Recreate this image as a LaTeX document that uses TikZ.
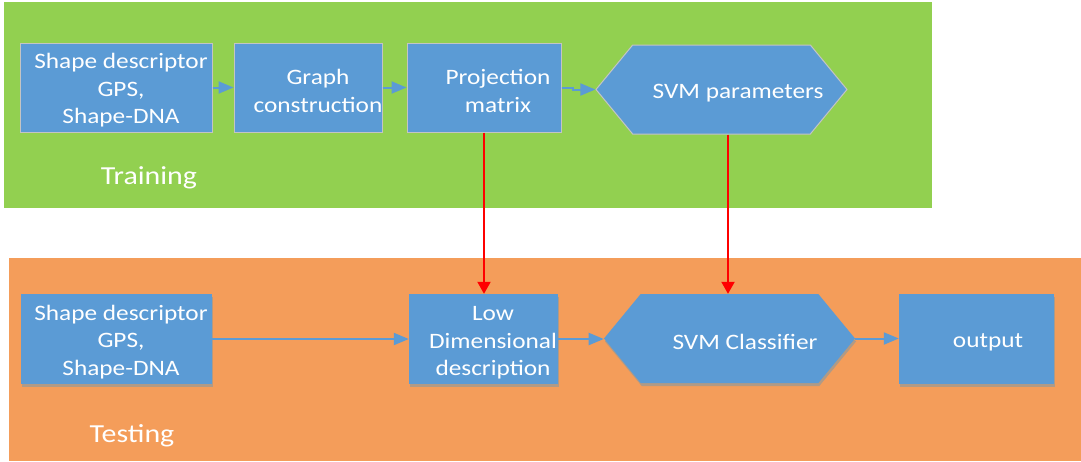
\documentclass[tikz,border=0pt]{standalone}
\usepackage{fontspec}
\setmainfont{Carlito}[FakeStretch=1.15]
\usetikzlibrary{arrows.meta,shapes.symbols,shadows}
\definecolor{panelgreen}{HTML}{92D050}
\definecolor{panelorange}{HTML}{F49D5A}
\definecolor{boxblue}{HTML}{5B9BD5}
\definecolor{boxedge}{HTML}{C4C4C4}
\definecolor{shadowgray}{HTML}{B09A86}
\tikzset{
  basebox/.style={fill=boxblue, inner sep=0pt, anchor=center},
  tbox/.style={basebox, rectangle, draw=boxedge, line width=1pt},
  sbox/.style={basebox, rectangle, draw=none,
    drop shadow={shadow xshift=1pt, shadow yshift=-3pt, fill=shadowgray, opacity=1}},
  thexa/.style={basebox, signal, signal to=west and east, signal pointer angle=101,
    draw=boxedge, line width=1pt},
  shexa/.style={basebox, signal, signal to=west and east, signal pointer angle=101,
    draw=none, drop shadow={shadow xshift=1pt, shadow yshift=-3pt, fill=shadowgray, opacity=1}},
  boxtext/.style={text=white, align=center, font=\fontsize{22}{27.5}\selectfont, inner sep=0pt},
  paneltext/.style={text=white, font=\fontsize{26}{30}\selectfont, inner sep=0pt},
  flow/.style={draw=boxblue, line width=2pt, -{Triangle[length=15pt,width=12pt]}},
  feed/.style={draw=red, line width=2pt, -{Triangle[length=12pt,width=13pt]}}
}
\begin{document}
\begin{tikzpicture}[x=1pt,y=-1pt]
\useasboundingbox (0,0) rectangle (1081,461);
% panels
\fill[panelgreen] (4,2) rectangle (932,208);
\fill[panelorange] (9,258) rectangle (1081,461);
\node[paneltext] (trainlbl) at (149,178) {Training};
\node[paneltext] (testlbl) at (132,436) {Testing};
% training row
\node[tbox, minimum width=192pt, minimum height=89pt] (tb1) at (116,87.5) {};
\node[tbox, minimum width=148pt, minimum height=89pt] (tb2) at (308,87.5) {};
\node[tbox, minimum width=154pt, minimum height=89pt] (tb3) at (484,87.5) {};
\node[thexa, minimum width=251pt, minimum height=89pt] (thex) at (721.5,89.5) {};
\node[boxtext] (tb1t) at (121,90.5) {Shape descriptor\\GPS,\\Shape-DNA};
\node[boxtext] (tb2t) at (318,91) {Graph\\construction};
\node[boxtext] (tb3t) at (498,91) {Projection\\matrix};
\node[boxtext] (thext) at (738,93) {SVM parameters};
% testing row
\node[sbox, minimum width=191pt, minimum height=90pt] (sb1) at (116.5,339) {};
\node[sbox, minimum width=149pt, minimum height=90pt] (sb2) at (483.5,339) {};
\node[shexa, minimum width=251pt, minimum height=89pt] (shex) at (729.5,338.5) {};
\node[sbox, minimum width=155pt, minimum height=90pt] (sout) at (976.5,339) {};
\node[boxtext] (sb1t) at (121,342) {Shape descriptor\\GPS,\\Shape-DNA};
\node[boxtext] (sb2t) at (493,343) {Low\\Dimensional\\description};
\node[boxtext] (shext) at (745,342) {SVM Classifier};
\node[boxtext] (soutt) at (988,342) {output};
% connectors
\draw[flow] (tb1.east) -- (tb2.west);
\draw[flow] (tb2.east) -- (tb3.west);
\draw[flow] (tb3.east) -- ++(11,0) |- (thex.west);
\draw[flow] (sb1.east) -- (sb1.east -| sb2.west);
\draw[flow] (sb2.east) -- (sb2.east -| shex.west);
\draw[flow] (shex.east) -- (shex.east -| sout.west);
\draw[feed] (tb3.south) -- (tb3.south |- sb2.north);
\draw[feed] ([xshift=6.5pt]thex.south) -- ([xshift=6.5pt]thex.south |- shex.north);
\end{tikzpicture}
\end{document}
